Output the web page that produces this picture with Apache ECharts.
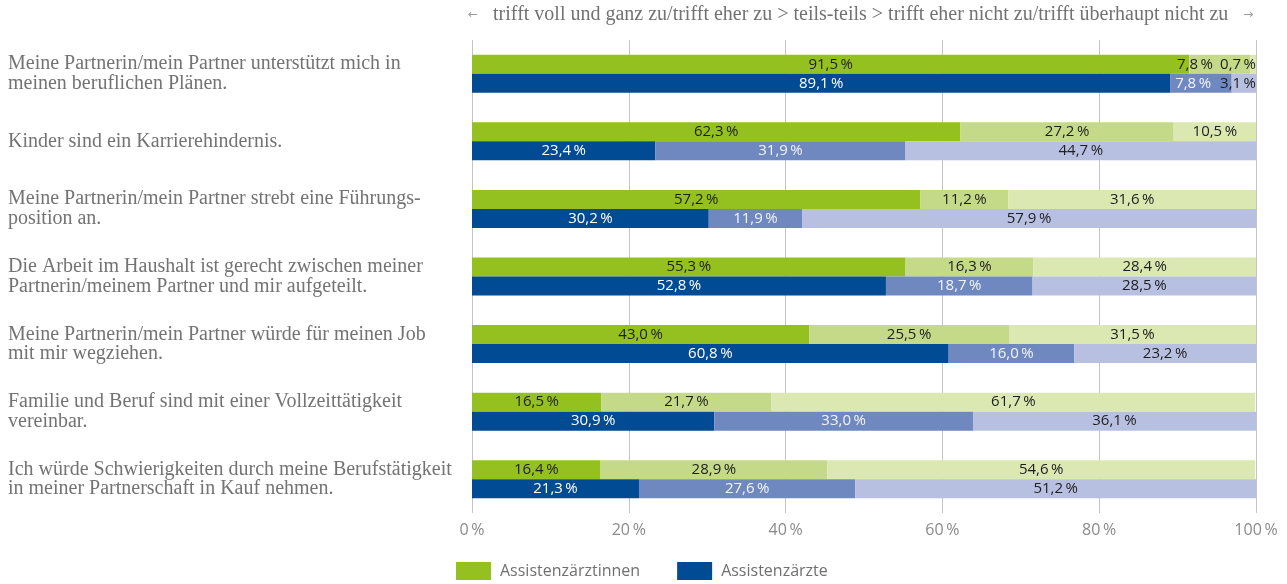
<!DOCTYPE html>
<html>
<head>
<meta charset="utf-8">
<script src="https://cdn.jsdelivr.net/npm/echarts@6/dist/echarts.min.js"></script>
<style>
  html, body { margin: 0; padding: 0; background: #ffffff; }
  #chart { width: 1287px; height: 584px; }
</style>
</head>
<body>
<div id="chart"></div>
<script>
// Statements (top to bottom)
const statements = [
  'Meine Partnerin/mein Partner unterstützt mich in\nmeinen beruflichen Plänen.',
  'Kinder sind ein Karrierehindernis.',
  'Meine Partnerin/mein Partner strebt eine Führungs-\nposition an.',
  'Die Arbeit im Haushalt ist gerecht zwischen meiner\nPartnerin/meinem Partner und mir aufgeteilt.',
  'Meine Partnerin/mein Partner würde für meinen Job\nmit mir wegziehen.',
  'Familie und Beruf sind mit einer Vollzeittätigkeit\nvereinbar.',
  'Ich würde Schwierigkeiten durch meine Berufstätigkeit\nin meiner Partnerschaft in Kauf nehmen.'
];

// Assistenzärztinnen (%): agree / partly / disagree
const femaleAgree    = [91.5, 62.3, 57.2, 55.3, 43.0, 16.5, 16.4];
const femalePartly   = [7.8, 27.2, 11.2, 16.3, 25.5, 21.7, 28.9];
const femaleDisagree = [0.7, 10.5, 31.6, 28.4, 31.5, 61.7, 54.6];

// Assistenzärzte (%): agree / partly / disagree
const maleAgree    = [89.1, 23.4, 30.2, 52.8, 60.8, 30.9, 21.3];
const malePartly   = [7.8, 31.9, 11.9, 18.7, 16.0, 33.0, 27.6];
const maleDisagree = [3.1, 44.7, 57.9, 28.5, 23.2, 36.1, 51.2];

const xTicks = [0, 20, 40, 60, 80, 100];

const fmt = v => v.toFixed(1).replace('.', ',') + '\u2009%';

// Label tweaks for narrow segments in the first row
function build(values, overrides) {
  return values.map((v, i) => overrides && overrides[i] ? { value: v, label: overrides[i] } : v);
}

const labelFont = { fontFamily: 'Open Sans', fontSize: 15 };

function seriesDef(name, stack, values, color, textColor, overrides) {
  return {
    name: name,
    type: 'bar',
    stack: stack,
    barWidth: 19,
    barGap: '0%',
    data: build(values, overrides),
    itemStyle: { color: color },
    label: Object.assign({
      show: true,
      position: 'inside',
      color: textColor,
      formatter: p => fmt(p.value)
    }, labelFont),
    emphasis: { disabled: true }
  };
}

const chart = echarts.init(document.getElementById('chart'), null, { renderer: 'canvas' });

chart.setOption({
  animation: false,
  grid: { left: 472, right: 31, top: 40, bottom: 71, containLabel: false },
  graphic: [{
    type: 'text',
    left: 468,
    top: 5,
    style: {
      text: '{a|←}   trifft voll und ganz zu/trifft eher zu > teils-teils > trifft eher nicht zu/trifft überhaupt nicht zu   {a|→}',
      fontFamily: 'Liberation Serif',
      fontSize: 20,
      fill: '#727272',
      rich: { a: { fontSize: 12, fill: '#9a9a9a', fontFamily: 'DejaVu Sans' } }
    }
  }],
  legend: {
    data: ['Assistenzärztinnen', 'Assistenzärzte'],
    left: 456,
    top: 562,
    padding: 0,
    itemWidth: 35,
    itemHeight: 18,
    itemGap: 37,
    icon: 'rect',
    textStyle: { fontFamily: 'Open Sans', fontSize: 16, color: '#707070', padding: [0, 0, 0, 4] }
  },
  xAxis: {
    type: 'value',
    min: 0,
    max: 100,
    interval: 20,
    axisLine: { show: false },
    axisTick: { show: false },
    splitLine: { show: true, lineStyle: { color: '#c4c4c4', width: 1 } },
    axisLabel: {
      margin: 9,
      color: '#8a8a8a',
      fontFamily: 'Open Sans',
      fontSize: 16,
      formatter: v => xTicks.includes(v) ? v + '\u2009%' : ''
    }
  },
  yAxis: {
    type: 'category',
    inverse: true,
    data: statements,
    axisLine: { show: false },
    axisTick: { show: false },
    axisLabel: {
      align: 'left',
      margin: 464,
      color: '#737373',
      fontFamily: 'Liberation Serif',
      fontSize: 20,
      lineHeight: 19.5
    }
  },
  series: [
    seriesDef('Assistenzärztinnen', 'f', femaleAgree, '#94c11f', '#1e1e1e'),
    seriesDef('Assistenzärztinnen teils-teils', 'f', femalePartly, '#c5da88', '#1e1e1e',
      { 0: { offset: [-25, 0] } }),
    seriesDef('Assistenzärztinnen trifft nicht zu', 'f', femaleDisagree, '#dbe8b2', '#1e1e1e',
      { 0: { position: 'insideRight', distance: 0 } }),
    seriesDef('Assistenzärzte', 'm', maleAgree, '#004b93', '#ffffff'),
    seriesDef('Assistenzärzte teils-teils', 'm', malePartly, '#6f89c0', '#f2f4fa',
      { 0: { offset: [-8, 0] } }),
    seriesDef('Assistenzärzte trifft nicht zu', 'm', maleDisagree, '#b8c0e1', '#1e1e1e',
      { 0: { position: 'insideRight', distance: 0 } })
  ]
});
</script>
</body>
</html>
